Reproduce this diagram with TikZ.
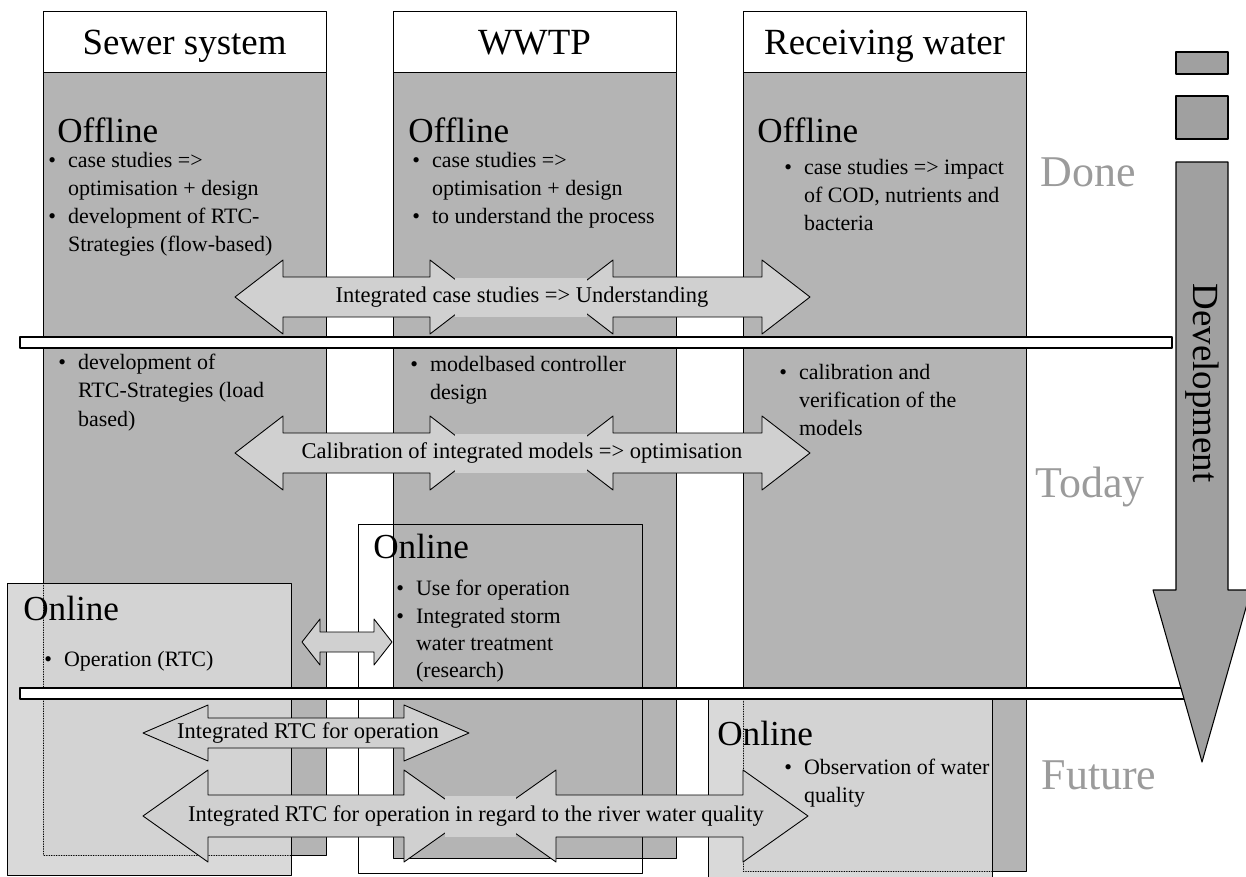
\documentclass[tikz,border=0pt]{standalone}
\usepackage{fontspec}
\setmainfont{Liberation Serif}
\definecolor{colgray}{RGB}{180,180,180}
\definecolor{onlinegray}{RGB}{214,214,214}
\definecolor{arrowgray}{RGB}{208,208,208}
\definecolor{devgray}{RGB}{160,160,160}
\definecolor{phasegray}{RGB}{155,155,155}
\newcommand{\bul}{\makebox[0.9em][l]{\textbullet}}
\newcommand{\ind}{\hspace*{0.9em}}
% double block arrow: left tip, right tip, centre y, body half, head half, head length
\newcommand{\dblarr}[6]{%
	\filldraw[blockarrow] (#1,#3) -- ({#1+#6},{#3-#5}) -- ({#1+#6},{#3-#4}) -- ({#2-#6},{#3-#4})
		-- ({#2-#6},{#3-#5}) -- (#2,#3) -- ({#2-#6},{#3+#5}) -- ({#2-#6},{#3+#4})
		-- ({#1+#6},{#3+#4}) -- ({#1+#6},{#3+#5}) -- cycle;}
\begin{document}
\begin{tikzpicture}[x=0.02cm, y=-0.02cm, line join=round, line cap=round,
	column/.style={draw=black, line width=0.5pt, fill=colgray},
	header/.style={draw=black, line width=0.5pt, fill=white},
	bar/.style={draw=black, line width=0.6pt, fill=white},
	onlinebox/.style={draw=black, line width=0.5pt, fill=onlinegray, fill opacity=0.92},
	blockarrow/.style={draw=black, line width=0.5pt, fill=arrowgray},
	devshape/.style={draw=black, line width=0.6pt, fill=devgray},
	headtext/.style={inner sep=0pt, font=\fontsize{21}{25}\selectfont},
	title/.style={anchor=base west, inner sep=0pt, font=\fontsize{20}{24}\selectfont},
	bullets/.style={anchor=north west, inner sep=0pt, align=left, font=\fontsize{12.5}{16}\selectfont},
	arrowtext/.style={inner sep=0pt, font=\fontsize{12.8}{15}\selectfont},
	phase/.style={inner sep=0pt, text=phasegray, font=\fontsize{25}{30}\selectfont}]
	\useasboundingbox (0,0) rectangle (1246,876);

	% columns
	\filldraw[column] (43,72) rectangle (326,855);
	\filldraw[column] (393,72) rectangle (676,858);
	\filldraw[column] (743,72) rectangle (1026,871);
	\filldraw[header] (43,11) rectangle (326,72);
	\filldraw[header] (393,11) rectangle (676,72);
	\filldraw[header] (743,11) rectangle (1026,72);
	\node[headtext, anchor=base] (sewer) at (184.5,54) {Sewer system};
	\node[headtext, anchor=base] (wwtp) at (534.5,54) {WWTP};
	\node[headtext, anchor=base] (river) at (884.5,54) {Receiving water};

	% done
	\node[title] (offS) at (57,142) {Offline};
	\node[bullets] (doneS) at (48,152) {\bul case studies =>\\ \ind optimisation + design\\ \bul development of RTC-\\ \ind Strategies (flow-based)};
	\node[title] (offW) at (408,142) {Offline};
	\node[bullets] (doneW) at (412,152) {\bul case studies =>\\ \ind optimisation + design\\ \bul to understand the process};
	\node[title] (offR) at (757,142) {Offline};
	\node[bullets] (doneR) at (784,159) {\bul case studies => impact\\ \ind of COD, nutrients and\\ \ind bacteria};

	% today
	\node[bullets] (todayS) at (58,354) {\bul development of\\ \ind RTC-Strategies (load\\ \ind based)};
	\node[bullets] (todayW) at (410,356) {\bul modelbased controller\\ \ind design};
	\node[bullets] (todayR) at (779,364) {\bul calibration and\\ \ind verification of the\\ \ind models};

	\dblarr{235}{478}{297}{20}{37}{48}
	\dblarr{565}{810}{297}{20}{37}{48}
	\fill[arrowgray] (455,277.5) rectangle (587,316.5);
	\node[arrowtext] (case) at (522,297) {Integrated case studies => Understanding};
	\dblarr{235}{478}{453}{20}{37}{48}
	\dblarr{565}{810}{453}{20}{37}{48}
	\fill[arrowgray] (455,433.5) rectangle (587,472.5);
	\node[arrowtext] (calib) at (522,453) {Calibration of integrated models => optimisation};

	\filldraw[bar] (20,337) rectangle (1172,348);

	% online
	\draw[line width=0.5pt] (358,524) rectangle (642,873);
	\node[title] (onW) at (373,558) {Online};
	\node[bullets, font=\fontsize{12.5}{15.5}\selectfont] (useW) at (396,580) {\bul Use for operation\\ \bul Integrated storm\\ \ind water treatment\\ \ind (research)};
	\filldraw[onlinebox] (7,583) rectangle (291,875);
	\draw[densely dotted, line width=0.4pt] (43,583) -- (43,855) -- (291,855);
	\node[title] (onS) at (23,620) {Online};
	\node[bullets] (useS) at (44,651) {\bul Operation (RTC)};
	\dblarr{302}{392}{642}{10}{23}{18}

	\filldraw[onlinebox] (708,690) rectangle (992,877);
	\draw[densely dotted, line width=0.4pt] (743,699) -- (743,871) -- (992,871);
	\filldraw[bar] (20,688) rectangle (1190,699);
	\node[title] (onR) at (717,745) {Online};
	\node[bullets] (useR) at (784,759) {\bul Observation of water\\ \ind quality};

	% future
	\dblarr{143}{469}{733}{15}{28}{65}
	\node[arrowtext] (rtc) at (308,733) {Integrated RTC for operation};
	\dblarr{143}{469}{816}{21}{46}{65}
	\dblarr{491}{808}{816}{21}{46}{65}
	\fill[arrowgray] (445,795.5) rectangle (516,836.5);
	\node[arrowtext] (rtcriver) at (476,816) {Integrated RTC for operation in regard to the river water quality};

	% development
	\filldraw[devshape] (1176,52) rectangle (1228,74);
	\filldraw[devshape] (1176,96) rectangle (1228,139);
	\filldraw[devshape] (1176,162) -- (1228,162) -- (1228,590) -- (1251,590) -- (1202,762) -- (1153,590) -- (1176,590) -- cycle;
	\node[headtext, rotate=-90] (dev) at (1202,383) {Development};
	\node[phase] (done) at (1088,172) {Done};
	\node[phase] (today) at (1090,487) {Today};
	\node[phase] (future) at (1099,775) {Future};
\end{tikzpicture}
\end{document}
